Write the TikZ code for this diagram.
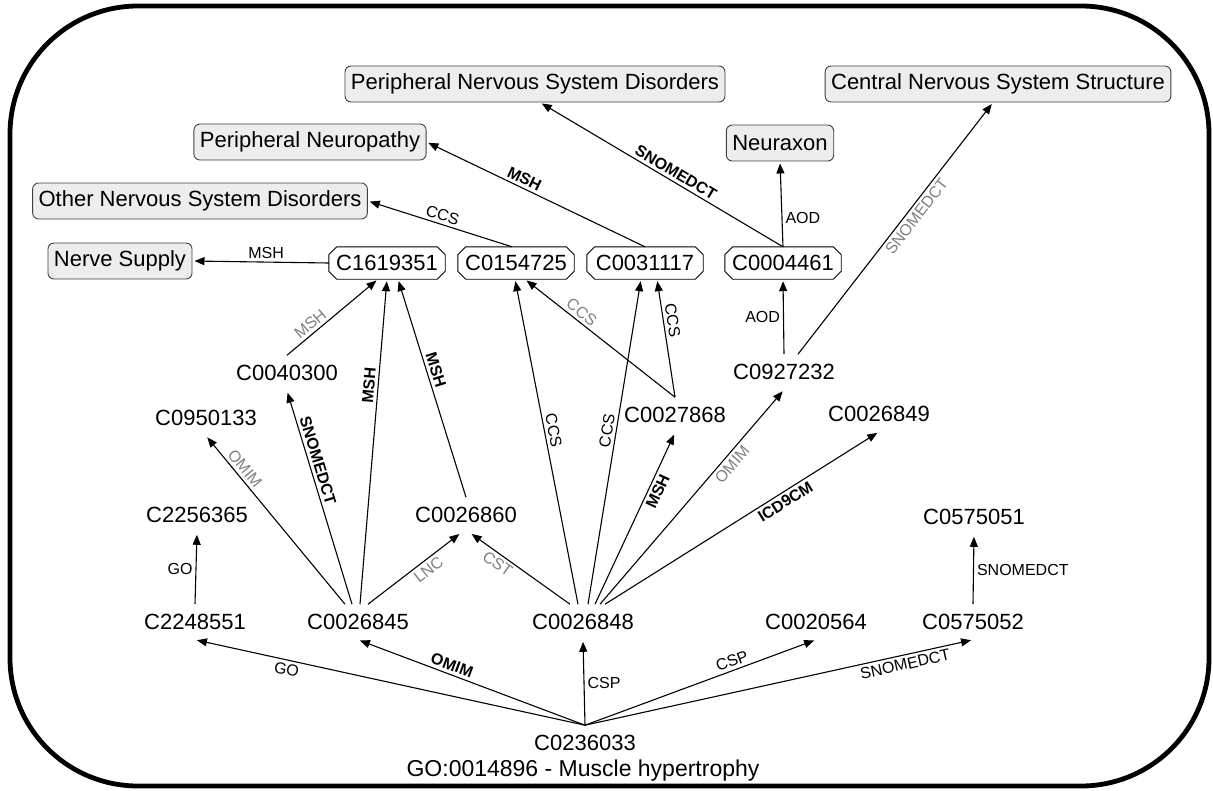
\documentclass[tikz,border=0pt]{standalone}
\usepackage{fontspec}
\setmainfont{Liberation Sans}
\usetikzlibrary{arrows.meta}
\newcommand\octframe[1]{\draw[line width=0.9pt] ([xshift=8pt]#1.north west) -- ([xshift=-8pt]#1.north east) -- ([yshift=-8pt]#1.north east) -- ([yshift=8pt]#1.south east) -- ([xshift=-8pt]#1.south east) -- ([xshift=8pt]#1.south west) -- ([yshift=8pt]#1.south west) -- ([yshift=-8pt]#1.north west) -- cycle;}
\begin{document}
\begin{tikzpicture}[x=1pt,y=-1pt,
  idfont/.style={font=\fontsize{22}{26}\selectfont},
  box/.style={idfont, draw=black!75, fill=black!7, rounded corners=6pt, line width=0.9pt, inner xsep=6pt, minimum height=36pt},
  oct/.style={idfont, inner sep=0pt, minimum width=116pt, minimum height=32pt},
  plain/.style={idfont, inner xsep=2pt, inner ysep=6pt, outer sep=4pt},
  arr/.style={-{Triangle[length=10pt,width=8pt]}, line width=1.1pt, shorten >=2pt},
  lab/.style={font=\fontsize{16}{18}\selectfont, inner sep=3pt},
  blab/.style={font=\fontsize{16}{18}\selectfont\bfseries, inner sep=3pt},
  glab/.style={font=\fontsize{16}{18}\selectfont, text=black!50, inner sep=3pt},
]
\useasboundingbox (0,0) rectangle (1213,790);
\draw[line width=4.8pt, rounded corners=128pt] (10,6) rectangle (1209,786);

% boxes
\node[box] (pnsd) at (535,84) {Peripheral Nervous System Disorders};
\node[box] (cnss) at (998,84) {Central Nervous System Structure};
\node[box] (pn) at (310,142) {Peripheral Neuropathy};
\node[box] (nax) at (780,143) {Neuraxon};
\node[box] (onsd) at (200,201) {Other Nervous System Disorders};
\node[box] (ns) at (120,261) {Nerve Supply};
% octagons
\node[oct] (c1619351) at (387,263) {C1619351};
\node[oct] (c0154725) at (516,263) {C0154725};
\node[oct] (c0031117) at (645,263) {C0031117};
\node[oct] (c0004461) at (783,263) {C0004461};
\octframe{c1619351}
\octframe{c0154725}
\octframe{c0031117}
\octframe{c0004461}
% plain ids
\node[plain] (c0040300) at (287,373) {C0040300};
\node[plain] (c0927232) at (784,372) {C0927232};
\node[plain] (c0950133) at (206,418) {C0950133};
\node[plain] (c0027868) at (675,415) {C0027868};
\node[plain] (c0026849) at (879,414) {C0026849};
\node[plain] (c2256365) at (197,515) {C2256365};
\node[plain] (c0026860) at (466,515) {C0026860};
\node[plain] (c0575051) at (974,517) {C0575051};
\node[plain] (c2248551) at (195,622) {C2248551};
\node[plain] (c0026845) at (358,622) {C0026845};
\node[plain] (c0026848) at (583,622) {C0026848};
\node[plain] (c0020564) at (816,622) {C0020564};
\node[plain] (c0575052) at (973,622) {C0575052};
\node[plain] (c0236033) at (585,743) {C0236033};
\node[font=\fontsize{23}{27}\selectfont] (title) at (583,771) {GO:0014896 - Muscle hypertrophy};

% edges from C0236033
\draw[arr] (c0236033.north) -- (c2248551.south) node[lab,sloped,below,pos=0.76]{GO};
\draw[arr] (c0236033.north) -- (c0026845.south) node[blab,sloped,above,pos=0.6]{OMIM};
\draw[arr] (c0236033.north) -- (c0026848.south) node[lab,right,pos=0.5]{CSP};
\draw[arr] (c0236033.north) -- (c0020564.south) node[lab,sloped,above,pos=0.65]{CSP};
\draw[arr] (c0236033.north) -- (c0575052.south) node[lab,sloped,below,pos=0.82]{SNOMEDCT};
% verticals
\draw[arr] (c2248551.north) -- (c2256365.south) node[lab,left,pos=0.5]{GO};
\draw[arr] (c0575052.north) -- (c0575051.south) node[lab,right,pos=0.5]{SNOMEDCT};
% from C0026845
\draw[arr] ([xshift=-13pt]c0026845.north) -- (c0950133.south) node[glab,sloped,above,pos=0.77]{OMIM};
\draw[arr] ([xshift=-6pt]c0026845.north) -- (c0040300.south) node[blab,sloped,above,pos=0.66]{SNOMEDCT};
\draw[arr] ([xshift=2pt]c0026845.north) -- (c1619351.south) node[blab,sloped,above,pos=0.67]{MSH};
\draw[arr] ([xshift=10pt]c0026845.north) -- ([xshift=-5pt]c0026860.south) node[glab,sloped,below,pos=0.59]{LNC};
% from C0026848
\draw[arr] ([xshift=-13pt]c0026848.north) -- ([xshift=4pt]c0026860.south) node[glab,sloped,below,pos=0.67]{CST};
\draw[arr] ([xshift=-5pt]c0026848.north) -- ([xshift=-1pt]c0154725.south) node[lab,sloped,above,pos=0.53]{CCS};
\draw[arr] ([xshift=5pt]c0026848.north) -- ([xshift=-4pt]c0031117.south) node[lab,sloped,above,pos=0.53]{CCS};
\draw[arr] ([xshift=12pt]c0026848.north) -- (c0027868.south) node[blab,sloped,below,pos=0.68]{MSH};
\draw[arr] ([xshift=17pt]c0026848.north) -- (c0927232.south) node[glab,sloped,below,pos=0.68]{OMIM};
\draw[arr] ([xshift=22pt]c0026848.north) -- (c0026849.south) node[blab,sloped,below,pos=0.64]{ICD9CM};
% middle layer
\draw[arr] (c0026860.north) -- ([xshift=11pt]c1619351.south) node[blab,sloped,above,pos=0.57]{MSH};
\draw[arr] (c0040300.north) -- ([xshift=-9pt]c1619351.south) node[glab,sloped,above,pos=0.32]{MSH};
\draw[arr] (c0027868.north) -- ([xshift=9pt]c0154725.south) node[glab,sloped,above,pos=0.66]{CCS};
\draw[arr] (c0027868.north) -- ([xshift=12pt]c0031117.south) node[lab,sloped,above,pos=0.64]{CCS};
\draw[arr] (c0927232.north) -- (c0004461.south) node[lab,left,pos=0.5]{AOD};
\draw[arr] ([xshift=14pt]c0927232.north) -- ([xshift=-5pt]cnss.south) node[glab,sloped,below,pos=0.57]{SNOMEDCT};
% top layer
\draw[arr] (c0004461.north) -- (nax.south) node[lab,right,pos=0.34]{AOD};
\draw[arr] (c0004461.north) -- ([xshift=5pt]pnsd.south) node[blab,sloped,above,pos=0.46]{SNOMEDCT};
\draw[arr] (c0031117.north) -- (pn.east) node[blab,sloped,above,pos=0.57]{MSH};
\draw[arr] ([xshift=-4pt]c0154725.north) -- (onsd.east) node[lab,sloped,above,pos=0.5]{CCS};
\draw[arr] (c1619351.west) -- (ns.east) node[lab,above,pos=0.46]{MSH};
\end{tikzpicture}
\end{document}
